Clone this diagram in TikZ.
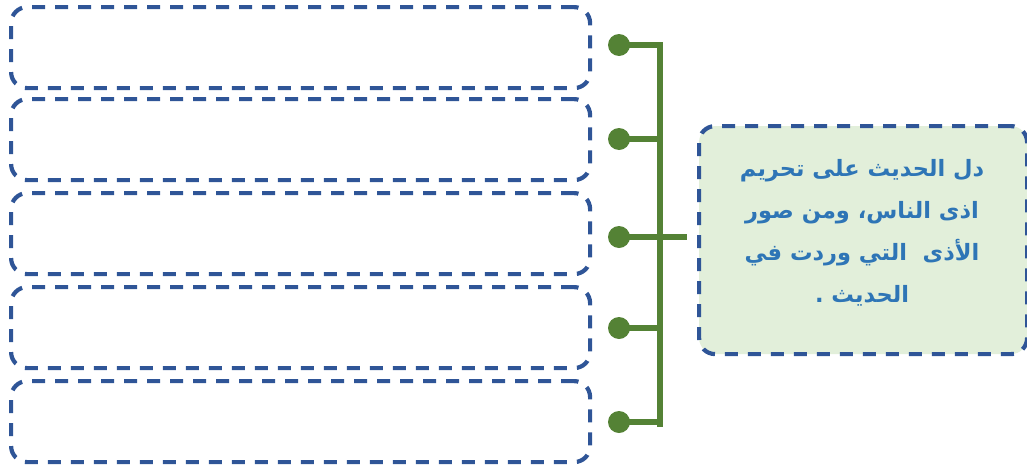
\documentclass[tikz,border=0pt]{standalone}
\usepackage{fontspec}
\TeXXeTstate=1
\newfontfamily\arabicfont[Script=Arabic]{DejaVu Sans}
\definecolor{bordblue}{HTML}{2F5597}
\definecolor{txtblue}{HTML}{2E75B6}
\definecolor{lgreen}{HTML}{E2EFDA}
\definecolor{dgreen}{HTML}{548235}
\begin{document}
\begin{tikzpicture}[x=1pt,y=-1pt,
  dbox/.style={draw=bordblue, line width=4.2pt, rounded corners=16pt,
    dash pattern=on 13pt off 10pt, inner sep=0pt},
  dot/.style={circle, fill=dgreen, minimum size=22pt, inner sep=0pt},
  gline/.style={draw=dgreen, line width=5.5pt}]
\useasboundingbox (0,0) rectangle (1027,466);
\foreach \i/\t in {1/5,2/97,3/191,4/285,5/379}{
  \node[dbox, minimum width=579pt, minimum height=81pt, anchor=north west] (box\i) at (9,\t) {};
}
\node[dbox, fill=lgreen, minimum width=328pt, minimum height=228pt, anchor=north west] (main) at (697,124) {};
\node[text=txtblue, font=\arabicfont\bfseries\fontsize{22.5}{42}\selectfont, align=center] (txt) at (862,233)
  {\beginR دل الحديث على تحريم\endR\\
   \beginR اذى الناس، ومن صور\endR\\
   \beginR الأذى\ \ التي وردت في\endR\\
   \beginR الحديث .\endR};
\foreach \i/\y in {1/45,2/139,3/237,4/328,5/422}{
  \node[dot] (d\i) at (619,\y) {};
  \coordinate (j\i) at (660,\y);
  \draw[gline] (d\i.center) -- (j\i);
}
\coordinate (jt) at (660,42.25);
\coordinate (jb) at (660,427);
\coordinate (m) at (687,237);
\draw[gline] (jt) -- (jb);
\draw[gline] (j3) -- (m);
\end{tikzpicture}
\end{document}
